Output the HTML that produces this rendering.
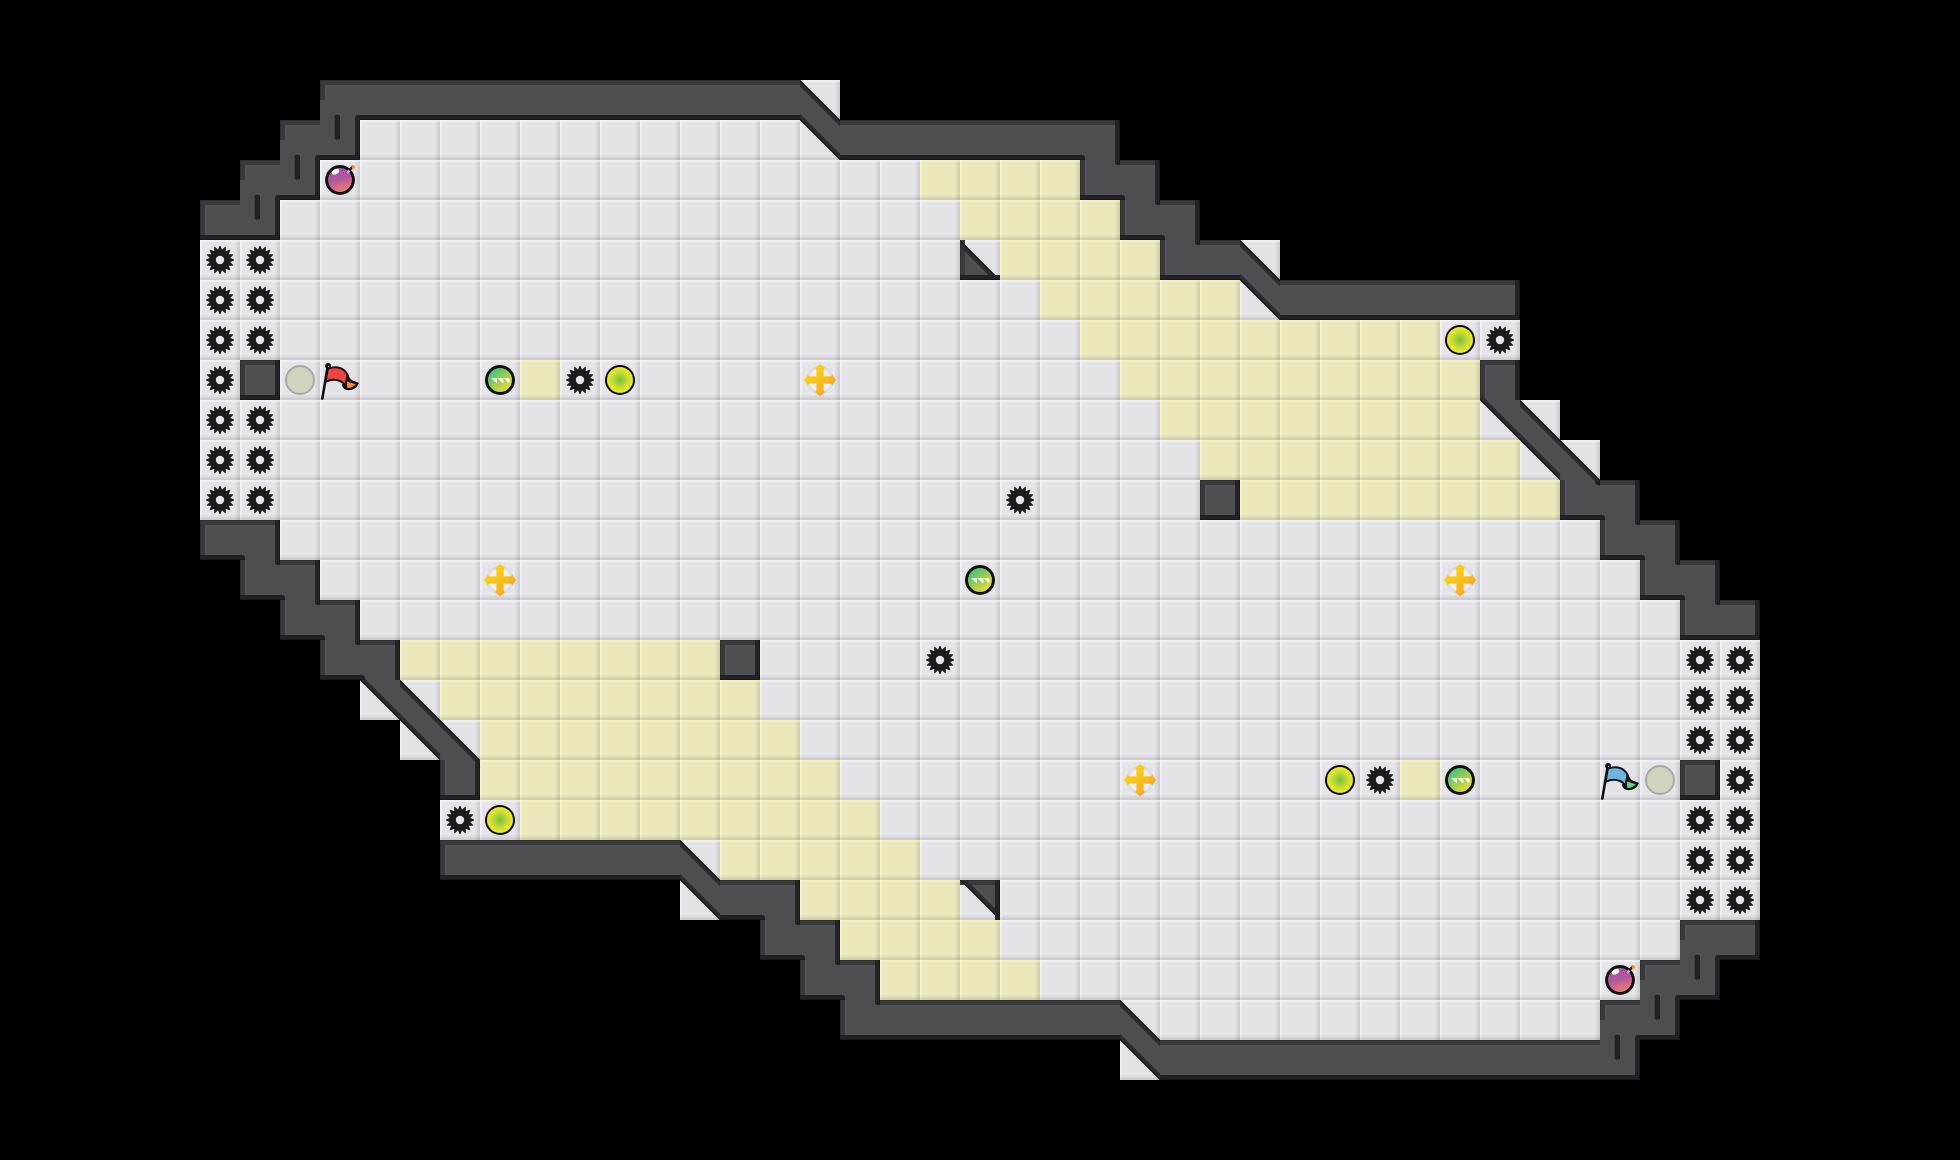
<!DOCTYPE html>
<html><head><meta charset="utf-8"><title>Map</title>
<style>html,body{margin:0;padding:0;background:#000;overflow:hidden;font-family:"Liberation Sans",sans-serif}svg{display:block}</style>
</head><body>
<svg width="1960" height="1160" viewBox="0 0 1960 1160">
<defs>
<linearGradient id="fh" x1="0" y1="0" x2="1" y2="0"><stop offset="0.0000" stop-color="#fff" stop-opacity="0.52"/><stop offset="0.0425" stop-color="#fff" stop-opacity="0.46"/><stop offset="0.0625" stop-color="#fff" stop-opacity="0.07"/><stop offset="0.1150" stop-color="#fff" stop-opacity="0.04"/><stop offset="0.1325" stop-color="#fff" stop-opacity="0.13"/><stop offset="0.1750" stop-color="#fff" stop-opacity="0.13"/><stop offset="0.1950" stop-color="#fff" stop-opacity="0.0"/><stop offset="0.7900" stop-color="#fff" stop-opacity="0.0"/><stop offset="0.8100" stop-color="#fff" stop-opacity="0.11"/><stop offset="0.8650" stop-color="#fff" stop-opacity="0.11"/><stop offset="0.8800" stop-color="#000" stop-opacity="0.02"/><stop offset="0.9250" stop-color="#000" stop-opacity="0.035"/><stop offset="0.9475" stop-color="#000" stop-opacity="0.09"/><stop offset="1.0000" stop-color="#000" stop-opacity="0.105"/></linearGradient>
<linearGradient id="fv" x1="0" y1="0" x2="0" y2="1"><stop offset="0.0000" stop-color="#fff" stop-opacity="0.52"/><stop offset="0.0425" stop-color="#fff" stop-opacity="0.46"/><stop offset="0.0625" stop-color="#fff" stop-opacity="0.07"/><stop offset="0.1150" stop-color="#fff" stop-opacity="0.04"/><stop offset="0.1325" stop-color="#fff" stop-opacity="0.13"/><stop offset="0.1750" stop-color="#fff" stop-opacity="0.13"/><stop offset="0.1950" stop-color="#fff" stop-opacity="0.0"/><stop offset="0.7900" stop-color="#fff" stop-opacity="0.0"/><stop offset="0.8100" stop-color="#fff" stop-opacity="0.11"/><stop offset="0.8650" stop-color="#fff" stop-opacity="0.11"/><stop offset="0.8800" stop-color="#000" stop-opacity="0.02"/><stop offset="0.9250" stop-color="#000" stop-opacity="0.035"/><stop offset="0.9475" stop-color="#000" stop-opacity="0.09"/><stop offset="1.0000" stop-color="#000" stop-opacity="0.105"/></linearGradient>
<linearGradient id="yh" x1="0" y1="0" x2="1" y2="0"><stop offset="0.0000" stop-color="#fffdd3" stop-opacity="0.52"/><stop offset="0.0425" stop-color="#fffdd3" stop-opacity="0.46"/><stop offset="0.0625" stop-color="#fffdd3" stop-opacity="0.07"/><stop offset="0.1150" stop-color="#fffdd3" stop-opacity="0.04"/><stop offset="0.1325" stop-color="#fffdd3" stop-opacity="0.13"/><stop offset="0.1750" stop-color="#fffdd3" stop-opacity="0.13"/><stop offset="0.1950" stop-color="#fffdd3" stop-opacity="0.0"/><stop offset="0.7900" stop-color="#fffdd3" stop-opacity="0.0"/><stop offset="0.8100" stop-color="#fffdd3" stop-opacity="0.11"/><stop offset="0.8650" stop-color="#fffdd3" stop-opacity="0.11"/><stop offset="0.8800" stop-color="#000" stop-opacity="0.02"/><stop offset="0.9250" stop-color="#000" stop-opacity="0.035"/><stop offset="0.9475" stop-color="#000" stop-opacity="0.09"/><stop offset="1.0000" stop-color="#000" stop-opacity="0.105"/></linearGradient>
<linearGradient id="yv" x1="0" y1="0" x2="0" y2="1"><stop offset="0.0000" stop-color="#fffdd3" stop-opacity="0.52"/><stop offset="0.0425" stop-color="#fffdd3" stop-opacity="0.46"/><stop offset="0.0625" stop-color="#fffdd3" stop-opacity="0.07"/><stop offset="0.1150" stop-color="#fffdd3" stop-opacity="0.04"/><stop offset="0.1325" stop-color="#fffdd3" stop-opacity="0.13"/><stop offset="0.1750" stop-color="#fffdd3" stop-opacity="0.13"/><stop offset="0.1950" stop-color="#fffdd3" stop-opacity="0.0"/><stop offset="0.7900" stop-color="#fffdd3" stop-opacity="0.0"/><stop offset="0.8100" stop-color="#fffdd3" stop-opacity="0.11"/><stop offset="0.8650" stop-color="#fffdd3" stop-opacity="0.11"/><stop offset="0.8800" stop-color="#000" stop-opacity="0.02"/><stop offset="0.9250" stop-color="#000" stop-opacity="0.035"/><stop offset="0.9475" stop-color="#000" stop-opacity="0.09"/><stop offset="1.0000" stop-color="#000" stop-opacity="0.105"/></linearGradient>
<pattern id="f" width="40" height="40" patternUnits="userSpaceOnUse">
<rect width="40" height="40" fill="#e2e2e7"/><rect width="40" height="40" fill="url(#fh)"/><rect width="40" height="40" fill="url(#fv)"/>
</pattern>
<pattern id="y" width="40" height="40" patternUnits="userSpaceOnUse">
<rect width="40" height="40" fill="#e8e6b9"/><rect width="40" height="40" fill="url(#yh)"/><rect width="40" height="40" fill="url(#yv)"/>
</pattern>
<radialGradient id="pg"><stop offset="0" stop-color="#78c24a"/><stop offset="0.55" stop-color="#c6da34"/><stop offset="1" stop-color="#f2f21c"/></radialGradient>
<linearGradient id="gg" x1="0.15" y1="0.1" x2="0.85" y2="0.9"><stop offset="0" stop-color="#35c088"/><stop offset="0.5" stop-color="#9ccc50"/><stop offset="1" stop-color="#f2dc3a"/></linearGradient>
<linearGradient id="bg" x1="0.3" y1="0" x2="0.6" y2="1"><stop offset="0" stop-color="#9a4fb6"/><stop offset="0.5" stop-color="#b45a98"/><stop offset="1" stop-color="#f4846c"/></linearGradient>
<linearGradient id="og" x1="0" y1="0" x2="1" y2="1"><stop offset="0" stop-color="#f4dc14"/><stop offset="0.5" stop-color="#f7c21a"/><stop offset="1" stop-color="#ff9220"/></linearGradient>
<radialGradient id="halo"><stop offset="0.7" stop-color="#f0f0f4" stop-opacity="1"/><stop offset="0.86" stop-color="#d8d8de" stop-opacity="0.9"/><stop offset="1" stop-color="#d8d8de" stop-opacity="0"/></radialGradient>
<symbol id="spike" width="40" height="40" viewBox="0 0 40 40" overflow="visible"><path d="M19.51 6.01L20.49 6.01L22.03 9.80L24.90 6.89L25.81 7.26L25.78 11.35L29.55 9.76L30.24 10.45L28.65 14.22L32.74 14.19L33.11 15.10L30.20 17.97L33.99 19.51L33.99 20.49L30.20 22.03L33.11 24.90L32.74 25.81L28.65 25.78L30.24 29.55L29.55 30.24L25.78 28.65L25.81 32.74L24.90 33.11L22.03 30.20L20.49 33.99L19.51 33.99L17.97 30.20L15.10 33.11L14.19 32.74L14.22 28.65L10.45 30.24L9.76 29.55L11.35 25.78L7.26 25.81L6.89 24.90L9.80 22.03L6.01 20.49L6.01 19.51L9.80 17.97L6.89 15.10L7.26 14.19L11.35 14.22L9.76 10.45L10.45 9.76L14.22 11.35L14.19 7.26L15.10 6.89L17.97 9.80Z" fill="#1b1b1b"/><circle cx="20" cy="20" r="4.2" fill="#e4e4e9"/></symbol>
<symbol id="portal" width="40" height="40" viewBox="0 0 40 40"><circle cx="20" cy="20" r="14" fill="url(#pg)" stroke="#0c0818" stroke-width="2"/><g fill="#f0f41a" opacity="0.75"><circle cx="13.4" cy="13.4" r="1.5"/><circle cx="26.6" cy="13.4" r="1.5"/><circle cx="13.4" cy="26.6" r="1.5"/><circle cx="26.6" cy="26.6" r="1.5"/></g></symbol>
<symbol id="portaloff" width="40" height="40" viewBox="0 0 40 40"><circle cx="20" cy="20" r="14" fill="#cdd5bd" stroke="#a9aaa4" stroke-width="2"/></symbol>
<symbol id="pup" width="40" height="40" viewBox="0 0 40 40"><circle cx="20" cy="20" r="13.5" fill="url(#gg)" stroke="#111" stroke-width="3"/>
<path d="M11.2 18.2h5.8v5.4zM17.6 18.2h5.8v5.4zM24 18.2h5.4v5.4z" fill="#fff"/></symbol>
<symbol id="bomb" width="40" height="40" viewBox="0 0 40 40"><path d="M29 10.5L32.5 7" stroke="#111" stroke-width="2.4" fill="none"/>
<circle cx="20" cy="20" r="13.4" fill="url(#bg)" stroke="#111" stroke-width="3"/>
<ellipse cx="15.6" cy="11.8" rx="4" ry="2.5" transform="rotate(-25 15.6 11.8)" fill="#fff"/>
<circle cx="28.5" cy="11.6" r="1.4" fill="#f7b8d0"/>
<path d="M31.6 4.6l3.4 1.2 -0.6 3.4 -2.2 0.4z" fill="#ff8a10"/></symbol>
<symbol id="boost" width="40" height="40" viewBox="0 0 40 40"><circle cx="20" cy="20" r="14.500" fill="url(#halo)"/>
<path d="M16.80 16.80L16.80 9.60L15.40 7.80L20.00 4.20L24.60 7.80L23.20 9.60L23.20 16.80L30.40 16.80L32.20 15.40L35.80 20.00L32.20 24.60L30.40 23.20L23.20 23.20L23.20 30.40L24.60 32.20L20.00 35.80L15.40 32.20L16.80 30.40L16.80 23.20L9.60 23.20L7.80 24.60L4.20 20.00L7.80 15.40L9.60 16.80Z" fill="url(#og)" stroke="url(#og)" stroke-width="0.800" stroke-linejoin="round"/>
<circle cx="20" cy="20" r="2.200" fill="#e2d414" stroke="#f7b040" stroke-width="0.800"/></symbol>
<symbol id="rflag" width="40" height="40" viewBox="0 0 40 40"><path d="M7.700 6.500L2.300 38.600" stroke="#111" stroke-width="2.600" stroke-linecap="round" fill="none"/>
<path d="M7.800 8.800C12 7 17 6.800 21 8.400C24.500 10 26.500 12.500 27.600 15.200L25.600 25.600C23 22 18.500 19.700 13.500 19.700C10.500 19.700 8 20.600 5.700 21.900Z" fill="#f0453f" stroke="#111" stroke-width="1.900" stroke-linejoin="round"/>
<path d="M27.600 15.200C28.600 18.200 30.500 20.800 33.500 22L37.800 23.300C36 27 32.500 29.200 28.500 29.200C25.500 29.200 23.500 27.500 22.900 25L25.600 25.600Z" fill="#111" stroke="#111" stroke-width="1.900" stroke-linejoin="round"/>
<path d="M26.800 21.600L35.800 24.300C33.800 26.900 30.900 28.200 27.300 28Z" fill="#f58a30"/>
<circle cx="8.100" cy="5.900" r="2.900" fill="#111"/><circle cx="8.500" cy="6.400" r="0.600" fill="#eee"/></symbol>
<symbol id="bflag" width="40" height="40" viewBox="0 0 40 40"><path d="M7.700 6.500L2.300 38.600" stroke="#111" stroke-width="2.600" stroke-linecap="round" fill="none"/>
<path d="M7.800 8.800C12 7 17 6.800 21 8.400C24.500 10 26.500 12.500 27.600 15.200L25.600 25.600C23 22 18.500 19.700 13.500 19.700C10.500 19.700 8 20.600 5.700 21.900Z" fill="#6cb4e2" stroke="#111" stroke-width="1.900" stroke-linejoin="round"/>
<path d="M27.600 15.200C28.600 18.200 30.500 20.800 33.500 22L37.800 23.300C36 27 32.500 29.200 28.500 29.200C25.500 29.200 23.500 27.500 22.900 25L25.600 25.600Z" fill="#111" stroke="#111" stroke-width="1.900" stroke-linejoin="round"/>
<path d="M26.800 21.600L35.800 24.300C33.800 26.900 30.900 28.200 27.300 28Z" fill="#62d488"/>
<circle cx="8.100" cy="5.900" r="2.900" fill="#111"/><circle cx="8.500" cy="6.400" r="0.600" fill="#eee"/></symbol>
</defs>
<rect width="1960" height="1160" fill="#000"/>
<rect x="800" y="80" width="40" height="40" fill="url(#f)"/>
<rect x="360" y="120" width="480" height="40" fill="url(#f)"/>
<rect x="320" y="160" width="600" height="40" fill="url(#f)"/>
<rect x="920" y="160" width="160" height="40" fill="url(#y)"/>
<rect x="280" y="200" width="680" height="40" fill="url(#f)"/>
<rect x="960" y="200" width="160" height="40" fill="url(#y)"/>
<rect x="200" y="240" width="800" height="40" fill="url(#f)"/>
<rect x="1000" y="240" width="160" height="40" fill="url(#y)"/>
<rect x="1240" y="240" width="40" height="40" fill="url(#f)"/>
<rect x="200" y="280" width="840" height="40" fill="url(#f)"/>
<rect x="1040" y="280" width="200" height="40" fill="url(#y)"/>
<rect x="1240" y="280" width="40" height="40" fill="url(#f)"/>
<rect x="200" y="320" width="880" height="40" fill="url(#f)"/>
<rect x="1080" y="320" width="360" height="40" fill="url(#y)"/>
<rect x="1440" y="320" width="80" height="40" fill="url(#f)"/>
<rect x="200" y="360" width="40" height="40" fill="url(#f)"/>
<rect x="280" y="360" width="240" height="40" fill="url(#f)"/>
<rect x="520" y="360" width="40" height="40" fill="url(#y)"/>
<rect x="560" y="360" width="560" height="40" fill="url(#f)"/>
<rect x="1120" y="360" width="360" height="40" fill="url(#y)"/>
<rect x="200" y="400" width="960" height="40" fill="url(#f)"/>
<rect x="1160" y="400" width="320" height="40" fill="url(#y)"/>
<rect x="1480" y="400" width="80" height="40" fill="url(#f)"/>
<rect x="200" y="440" width="1000" height="40" fill="url(#f)"/>
<rect x="1200" y="440" width="320" height="40" fill="url(#y)"/>
<rect x="1520" y="440" width="80" height="40" fill="url(#f)"/>
<rect x="200" y="480" width="1000" height="40" fill="url(#f)"/>
<rect x="1240" y="480" width="320" height="40" fill="url(#y)"/>
<rect x="280" y="520" width="1320" height="40" fill="url(#f)"/>
<rect x="320" y="560" width="1320" height="40" fill="url(#f)"/>
<rect x="360" y="600" width="1320" height="40" fill="url(#f)"/>
<rect x="400" y="640" width="320" height="40" fill="url(#y)"/>
<rect x="760" y="640" width="1000" height="40" fill="url(#f)"/>
<rect x="360" y="680" width="80" height="40" fill="url(#f)"/>
<rect x="440" y="680" width="320" height="40" fill="url(#y)"/>
<rect x="760" y="680" width="1000" height="40" fill="url(#f)"/>
<rect x="400" y="720" width="80" height="40" fill="url(#f)"/>
<rect x="480" y="720" width="320" height="40" fill="url(#y)"/>
<rect x="800" y="720" width="960" height="40" fill="url(#f)"/>
<rect x="480" y="760" width="360" height="40" fill="url(#y)"/>
<rect x="840" y="760" width="560" height="40" fill="url(#f)"/>
<rect x="1400" y="760" width="40" height="40" fill="url(#y)"/>
<rect x="1440" y="760" width="240" height="40" fill="url(#f)"/>
<rect x="1720" y="760" width="40" height="40" fill="url(#f)"/>
<rect x="440" y="800" width="80" height="40" fill="url(#f)"/>
<rect x="520" y="800" width="360" height="40" fill="url(#y)"/>
<rect x="880" y="800" width="880" height="40" fill="url(#f)"/>
<rect x="680" y="840" width="40" height="40" fill="url(#f)"/>
<rect x="720" y="840" width="200" height="40" fill="url(#y)"/>
<rect x="920" y="840" width="840" height="40" fill="url(#f)"/>
<rect x="680" y="880" width="40" height="40" fill="url(#f)"/>
<rect x="800" y="880" width="160" height="40" fill="url(#y)"/>
<rect x="960" y="880" width="800" height="40" fill="url(#f)"/>
<rect x="840" y="920" width="160" height="40" fill="url(#y)"/>
<rect x="1000" y="920" width="680" height="40" fill="url(#f)"/>
<rect x="880" y="960" width="160" height="40" fill="url(#y)"/>
<rect x="1040" y="960" width="600" height="40" fill="url(#f)"/>
<rect x="1120" y="1000" width="480" height="40" fill="url(#f)"/>
<rect x="1120" y="1040" width="40" height="40" fill="url(#f)"/>
<g fill="#4e4d52"><rect x="320" y="80" width="40" height="40"/><rect x="360" y="80" width="40" height="40"/><rect x="400" y="80" width="40" height="40"/><rect x="440" y="80" width="40" height="40"/><rect x="480" y="80" width="40" height="40"/><rect x="520" y="80" width="40" height="40"/><rect x="560" y="80" width="40" height="40"/><rect x="600" y="80" width="40" height="40"/><rect x="640" y="80" width="40" height="40"/><rect x="680" y="80" width="40" height="40"/><rect x="720" y="80" width="40" height="40"/><rect x="760" y="80" width="40" height="40"/><path d="M800 80L840 120L800 120Z"/><rect x="280" y="120" width="40" height="40"/><rect x="320" y="120" width="40" height="40"/><path d="M800 120L840 120L840 160Z"/><rect x="840" y="120" width="40" height="40"/><rect x="880" y="120" width="40" height="40"/><rect x="920" y="120" width="40" height="40"/><rect x="960" y="120" width="40" height="40"/><rect x="1000" y="120" width="40" height="40"/><rect x="1040" y="120" width="40" height="40"/><rect x="1080" y="120" width="40" height="40"/><rect x="240" y="160" width="40" height="40"/><rect x="280" y="160" width="40" height="40"/><rect x="1080" y="160" width="40" height="40"/><rect x="1120" y="160" width="40" height="40"/><rect x="200" y="200" width="40" height="40"/><rect x="240" y="200" width="40" height="40"/><rect x="1120" y="200" width="40" height="40"/><rect x="1160" y="200" width="40" height="40"/><path d="M960 240L1000 280L960 280Z"/><rect x="1160" y="240" width="40" height="40"/><rect x="1200" y="240" width="40" height="40"/><path d="M1240 240L1280 280L1240 280Z"/><path d="M1240 280L1280 280L1280 320Z"/><rect x="1280" y="280" width="40" height="40"/><rect x="1320" y="280" width="40" height="40"/><rect x="1360" y="280" width="40" height="40"/><rect x="1400" y="280" width="40" height="40"/><rect x="1440" y="280" width="40" height="40"/><rect x="1480" y="280" width="40" height="40"/><rect x="240" y="360" width="40" height="40"/><rect x="1480" y="360" width="40" height="40"/><path d="M1480 400L1520 400L1520 440Z"/><path d="M1520 400L1560 440L1520 440Z"/><path d="M1520 440L1560 440L1560 480Z"/><path d="M1560 440L1600 480L1560 480Z"/><rect x="1200" y="480" width="40" height="40"/><rect x="1560" y="480" width="40" height="40"/><rect x="1600" y="480" width="40" height="40"/><rect x="200" y="520" width="40" height="40"/><rect x="240" y="520" width="40" height="40"/><rect x="1600" y="520" width="40" height="40"/><rect x="1640" y="520" width="40" height="40"/><rect x="240" y="560" width="40" height="40"/><rect x="280" y="560" width="40" height="40"/><rect x="1640" y="560" width="40" height="40"/><rect x="1680" y="560" width="40" height="40"/><rect x="280" y="600" width="40" height="40"/><rect x="320" y="600" width="40" height="40"/><rect x="1680" y="600" width="40" height="40"/><rect x="1720" y="600" width="40" height="40"/><rect x="320" y="640" width="40" height="40"/><rect x="360" y="640" width="40" height="40"/><rect x="720" y="640" width="40" height="40"/><path d="M360 680L400 680L400 720Z"/><path d="M400 680L440 720L400 720Z"/><path d="M400 720L440 720L440 760Z"/><path d="M440 720L480 760L440 760Z"/><rect x="440" y="760" width="40" height="40"/><rect x="1680" y="760" width="40" height="40"/><rect x="440" y="840" width="40" height="40"/><rect x="480" y="840" width="40" height="40"/><rect x="520" y="840" width="40" height="40"/><rect x="560" y="840" width="40" height="40"/><rect x="600" y="840" width="40" height="40"/><rect x="640" y="840" width="40" height="40"/><path d="M680 840L720 880L680 880Z"/><path d="M680 880L720 880L720 920Z"/><rect x="720" y="880" width="40" height="40"/><rect x="760" y="880" width="40" height="40"/><path d="M960 880L1000 880L1000 920Z"/><rect x="760" y="920" width="40" height="40"/><rect x="800" y="920" width="40" height="40"/><rect x="1680" y="920" width="40" height="40"/><rect x="1720" y="920" width="40" height="40"/><rect x="800" y="960" width="40" height="40"/><rect x="840" y="960" width="40" height="40"/><rect x="1640" y="960" width="40" height="40"/><rect x="1680" y="960" width="40" height="40"/><rect x="840" y="1000" width="40" height="40"/><rect x="880" y="1000" width="40" height="40"/><rect x="920" y="1000" width="40" height="40"/><rect x="960" y="1000" width="40" height="40"/><rect x="1000" y="1000" width="40" height="40"/><rect x="1040" y="1000" width="40" height="40"/><rect x="1080" y="1000" width="40" height="40"/><path d="M1120 1000L1160 1040L1120 1040Z"/><rect x="1600" y="1000" width="40" height="40"/><rect x="1640" y="1000" width="40" height="40"/><path d="M1120 1040L1160 1040L1160 1080Z"/><rect x="1160" y="1040" width="40" height="40"/><rect x="1200" y="1040" width="40" height="40"/><rect x="1240" y="1040" width="40" height="40"/><rect x="1280" y="1040" width="40" height="40"/><rect x="1320" y="1040" width="40" height="40"/><rect x="1360" y="1040" width="40" height="40"/><rect x="1400" y="1040" width="40" height="40"/><rect x="1440" y="1040" width="40" height="40"/><rect x="1480" y="1040" width="40" height="40"/><rect x="1520" y="1040" width="40" height="40"/><rect x="1560" y="1040" width="40" height="40"/><rect x="1600" y="1040" width="40" height="40"/></g>
<g fill="#57565b" opacity="0.5"><rect x="325" y="80" width="1.5" height="20"/><rect x="320" y="85" width="40" height="1.5"/><rect x="360" y="85" width="40" height="1.5"/><rect x="360" y="113.5" width="40" height="1.5"/><rect x="400" y="85" width="40" height="1.5"/><rect x="400" y="113.5" width="40" height="1.5"/><rect x="440" y="85" width="40" height="1.5"/><rect x="440" y="113.5" width="40" height="1.5"/><rect x="480" y="85" width="40" height="1.5"/><rect x="480" y="113.5" width="40" height="1.5"/><rect x="520" y="85" width="40" height="1.5"/><rect x="520" y="113.5" width="40" height="1.5"/><rect x="560" y="85" width="40" height="1.5"/><rect x="560" y="113.5" width="40" height="1.5"/><rect x="600" y="85" width="40" height="1.5"/><rect x="600" y="113.5" width="40" height="1.5"/><rect x="640" y="85" width="40" height="1.5"/><rect x="640" y="113.5" width="40" height="1.5"/><rect x="680" y="85" width="40" height="1.5"/><rect x="680" y="113.5" width="40" height="1.5"/><rect x="720" y="85" width="40" height="1.5"/><rect x="720" y="113.5" width="40" height="1.5"/><rect x="760" y="85" width="40" height="1.5"/><rect x="760" y="113.5" width="40" height="1.5"/><path d="M800 86.51L840 126.51L840 128.63L800 88.63Z"/><rect x="285" y="120" width="1.5" height="20"/><rect x="280" y="125" width="40" height="1.5"/><rect x="353.5" y="120" width="1.5" height="40"/><rect x="320" y="153.5" width="40" height="1.5"/><path d="M800 113.49L840 153.49L840 151.37L800 111.37Z"/><rect x="840" y="125" width="40" height="1.5"/><rect x="840" y="153.5" width="40" height="1.5"/><rect x="880" y="125" width="40" height="1.5"/><rect x="880" y="153.5" width="40" height="1.5"/><rect x="920" y="125" width="40" height="1.5"/><rect x="920" y="153.5" width="40" height="1.5"/><rect x="960" y="125" width="40" height="1.5"/><rect x="960" y="153.5" width="40" height="1.5"/><rect x="1000" y="125" width="40" height="1.5"/><rect x="1000" y="153.5" width="40" height="1.5"/><rect x="1040" y="125" width="40" height="1.5"/><rect x="1040" y="153.5" width="40" height="1.5"/><rect x="1080" y="125" width="40" height="1.5"/><rect x="1113.5" y="120" width="1.5" height="40"/><rect x="245" y="160" width="1.5" height="20"/><rect x="240" y="165" width="40" height="1.5"/><rect x="313.5" y="160" width="1.5" height="40"/><rect x="280" y="193.5" width="40" height="1.5"/><rect x="1085" y="160" width="1.5" height="40"/><rect x="1080" y="193.5" width="40" height="1.5"/><rect x="1120" y="165" width="40" height="1.5"/><rect x="1153.5" y="160" width="1.5" height="40"/><rect x="205" y="200" width="1.5" height="40"/><rect x="200" y="205" width="40" height="1.5"/><rect x="200" y="233.5" width="40" height="1.5"/><rect x="273.5" y="200" width="1.5" height="40"/><rect x="240" y="233.5" width="40" height="1.5"/><rect x="1125" y="200" width="1.5" height="40"/><rect x="1120" y="233.5" width="40" height="1.5"/><rect x="1160" y="205" width="40" height="1.5"/><rect x="1193.5" y="200" width="1.5" height="40"/><rect x="1165" y="240" width="1.5" height="40"/><rect x="1160" y="273.5" width="40" height="1.5"/><rect x="1200" y="245" width="40" height="1.5"/><rect x="1200" y="273.5" width="40" height="1.5"/><path d="M1240 246.51L1280 286.51L1280 288.63L1240 248.63Z"/><path d="M1240 273.49L1280 313.49L1280 311.37L1240 271.37Z"/><rect x="1280" y="285" width="40" height="1.5"/><rect x="1280" y="313.5" width="40" height="1.5"/><rect x="1320" y="285" width="40" height="1.5"/><rect x="1320" y="313.5" width="40" height="1.5"/><rect x="1360" y="285" width="40" height="1.5"/><rect x="1360" y="313.5" width="40" height="1.5"/><rect x="1400" y="285" width="40" height="1.5"/><rect x="1400" y="313.5" width="40" height="1.5"/><rect x="1440" y="285" width="40" height="1.5"/><rect x="1440" y="313.5" width="40" height="1.5"/><rect x="1480" y="285" width="40" height="1.5"/><rect x="1513.5" y="280" width="1.5" height="40"/><rect x="1480" y="313.5" width="40" height="1.5"/><rect x="245" y="360" width="1.5" height="40"/><rect x="240" y="365" width="40" height="1.5"/><rect x="273.5" y="360" width="1.5" height="40"/><rect x="240" y="393.5" width="40" height="1.5"/><rect x="1485" y="360" width="1.5" height="40"/><rect x="1480" y="365" width="40" height="1.5"/><rect x="1513.5" y="360" width="1.5" height="40"/><path d="M1480 393.49L1520 433.49L1520 431.37L1480 391.37Z"/><path d="M1520 406.51L1560 446.51L1560 448.63L1520 408.63Z"/><path d="M1520 433.49L1560 473.49L1560 471.37L1520 431.37Z"/><path d="M1560 446.51L1600 486.51L1600 488.63L1560 448.63Z"/><rect x="1205" y="480" width="1.5" height="40"/><rect x="1200" y="485" width="40" height="1.5"/><rect x="1233.5" y="480" width="1.5" height="40"/><rect x="1200" y="513.5" width="40" height="1.5"/><rect x="1565" y="480" width="1.5" height="40"/><rect x="1560" y="513.5" width="40" height="1.5"/><rect x="1600" y="485" width="40" height="1.5"/><rect x="1633.5" y="480" width="1.5" height="40"/><rect x="205" y="520" width="1.5" height="40"/><rect x="200" y="525" width="40" height="1.5"/><rect x="200" y="553.5" width="40" height="1.5"/><rect x="240" y="525" width="40" height="1.5"/><rect x="273.5" y="520" width="1.5" height="40"/><rect x="1605" y="520" width="1.5" height="40"/><rect x="1600" y="553.5" width="40" height="1.5"/><rect x="1640" y="525" width="40" height="1.5"/><rect x="1673.5" y="520" width="1.5" height="40"/><rect x="245" y="560" width="1.5" height="40"/><rect x="240" y="593.5" width="40" height="1.5"/><rect x="280" y="565" width="40" height="1.5"/><rect x="313.5" y="560" width="1.5" height="40"/><rect x="1645" y="560" width="1.5" height="40"/><rect x="1640" y="593.5" width="40" height="1.5"/><rect x="1680" y="565" width="40" height="1.5"/><rect x="1713.5" y="560" width="1.5" height="40"/><rect x="285" y="600" width="1.5" height="40"/><rect x="280" y="633.5" width="40" height="1.5"/><rect x="320" y="605" width="40" height="1.5"/><rect x="353.5" y="600" width="1.5" height="40"/><rect x="1685" y="600" width="1.5" height="40"/><rect x="1680" y="633.5" width="40" height="1.5"/><rect x="1720" y="605" width="40" height="1.5"/><rect x="1753.5" y="600" width="1.5" height="40"/><rect x="1720" y="633.5" width="40" height="1.5"/><rect x="325" y="640" width="1.5" height="40"/><rect x="320" y="673.5" width="40" height="1.5"/><rect x="360" y="645" width="40" height="1.5"/><rect x="393.5" y="640" width="1.5" height="40"/><rect x="725" y="640" width="1.5" height="40"/><rect x="720" y="645" width="40" height="1.5"/><rect x="753.5" y="640" width="1.5" height="40"/><rect x="720" y="673.5" width="40" height="1.5"/><path d="M360 673.49L400 713.49L400 711.37L360 671.37Z"/><path d="M400 686.51L440 726.51L440 728.63L400 688.63Z"/><path d="M400 713.49L440 753.49L440 751.37L400 711.37Z"/><path d="M440 726.51L480 766.51L480 768.63L440 728.63Z"/><rect x="445" y="760" width="1.5" height="40"/><rect x="473.5" y="760" width="1.5" height="40"/><rect x="440" y="793.5" width="40" height="1.5"/><rect x="1685" y="760" width="1.5" height="40"/><rect x="1680" y="765" width="40" height="1.5"/><rect x="1713.5" y="760" width="1.5" height="40"/><rect x="1680" y="793.5" width="40" height="1.5"/><rect x="445" y="840" width="1.5" height="40"/><rect x="440" y="845" width="40" height="1.5"/><rect x="440" y="873.5" width="40" height="1.5"/><rect x="480" y="845" width="40" height="1.5"/><rect x="480" y="873.5" width="40" height="1.5"/><rect x="520" y="845" width="40" height="1.5"/><rect x="520" y="873.5" width="40" height="1.5"/><rect x="560" y="845" width="40" height="1.5"/><rect x="560" y="873.5" width="40" height="1.5"/><rect x="600" y="845" width="40" height="1.5"/><rect x="600" y="873.5" width="40" height="1.5"/><rect x="640" y="845" width="40" height="1.5"/><rect x="640" y="873.5" width="40" height="1.5"/><path d="M680 846.51L720 886.51L720 888.63L680 848.63Z"/><path d="M680 873.49L720 913.49L720 911.37L680 871.37Z"/><rect x="720" y="885" width="40" height="1.5"/><rect x="720" y="913.5" width="40" height="1.5"/><rect x="760" y="885" width="40" height="1.5"/><rect x="793.5" y="880" width="1.5" height="40"/><rect x="765" y="920" width="1.5" height="40"/><rect x="760" y="953.5" width="40" height="1.5"/><rect x="800" y="925" width="40" height="1.5"/><rect x="833.5" y="920" width="1.5" height="40"/><rect x="1685" y="920" width="1.5" height="20"/><rect x="1680" y="925" width="40" height="1.5"/><rect x="1720" y="925" width="40" height="1.5"/><rect x="1753.5" y="920" width="1.5" height="40"/><rect x="1720" y="953.5" width="40" height="1.5"/><rect x="805" y="960" width="1.5" height="40"/><rect x="800" y="993.5" width="40" height="1.5"/><rect x="840" y="965" width="40" height="1.5"/><rect x="873.5" y="960" width="1.5" height="40"/><rect x="1645" y="960" width="1.5" height="20"/><rect x="1640" y="965" width="40" height="1.5"/><rect x="1713.5" y="960" width="1.5" height="40"/><rect x="1680" y="993.5" width="40" height="1.5"/><rect x="845" y="1000" width="1.5" height="40"/><rect x="840" y="1033.5" width="40" height="1.5"/><rect x="880" y="1005" width="40" height="1.5"/><rect x="880" y="1033.5" width="40" height="1.5"/><rect x="920" y="1005" width="40" height="1.5"/><rect x="920" y="1033.5" width="40" height="1.5"/><rect x="960" y="1005" width="40" height="1.5"/><rect x="960" y="1033.5" width="40" height="1.5"/><rect x="1000" y="1005" width="40" height="1.5"/><rect x="1000" y="1033.5" width="40" height="1.5"/><rect x="1040" y="1005" width="40" height="1.5"/><rect x="1040" y="1033.5" width="40" height="1.5"/><rect x="1080" y="1005" width="40" height="1.5"/><rect x="1080" y="1033.5" width="40" height="1.5"/><path d="M1120 1006.51L1160 1046.51L1160 1048.63L1120 1008.63Z"/><rect x="1605" y="1000" width="1.5" height="20"/><rect x="1600" y="1005" width="40" height="1.5"/><rect x="1673.5" y="1000" width="1.5" height="40"/><rect x="1640" y="1033.5" width="40" height="1.5"/><path d="M1120 1033.49L1160 1073.49L1160 1071.37L1120 1031.37Z"/><rect x="1160" y="1045" width="40" height="1.5"/><rect x="1160" y="1073.5" width="40" height="1.5"/><rect x="1200" y="1045" width="40" height="1.5"/><rect x="1200" y="1073.5" width="40" height="1.5"/><rect x="1240" y="1045" width="40" height="1.5"/><rect x="1240" y="1073.5" width="40" height="1.5"/><rect x="1280" y="1045" width="40" height="1.5"/><rect x="1280" y="1073.5" width="40" height="1.5"/><rect x="1320" y="1045" width="40" height="1.5"/><rect x="1320" y="1073.5" width="40" height="1.5"/><rect x="1360" y="1045" width="40" height="1.5"/><rect x="1360" y="1073.5" width="40" height="1.5"/><rect x="1400" y="1045" width="40" height="1.5"/><rect x="1400" y="1073.5" width="40" height="1.5"/><rect x="1440" y="1045" width="40" height="1.5"/><rect x="1440" y="1073.5" width="40" height="1.5"/><rect x="1480" y="1045" width="40" height="1.5"/><rect x="1480" y="1073.5" width="40" height="1.5"/><rect x="1520" y="1045" width="40" height="1.5"/><rect x="1520" y="1073.5" width="40" height="1.5"/><rect x="1560" y="1045" width="40" height="1.5"/><rect x="1560" y="1073.5" width="40" height="1.5"/><rect x="1633.5" y="1040" width="1.5" height="40"/><rect x="1600" y="1073.5" width="40" height="1.5"/></g>
<g fill="#3a393e"><rect x="320" y="80" width="5" height="20"/><rect x="320" y="80" width="40" height="5"/><rect x="360" y="80" width="40" height="5"/><rect x="400" y="80" width="40" height="5"/><rect x="440" y="80" width="40" height="5"/><rect x="480" y="80" width="40" height="5"/><rect x="520" y="80" width="40" height="5"/><rect x="560" y="80" width="40" height="5"/><rect x="600" y="80" width="40" height="5"/><rect x="640" y="80" width="40" height="5"/><rect x="680" y="80" width="40" height="5"/><rect x="720" y="80" width="40" height="5"/><rect x="760" y="80" width="40" height="5"/><rect x="280" y="120" width="5" height="20"/><rect x="280" y="120" width="40" height="5"/><rect x="840" y="120" width="40" height="5"/><rect x="880" y="120" width="40" height="5"/><rect x="920" y="120" width="40" height="5"/><rect x="960" y="120" width="40" height="5"/><rect x="1000" y="120" width="40" height="5"/><rect x="1040" y="120" width="40" height="5"/><rect x="1080" y="120" width="40" height="5"/><rect x="240" y="160" width="5" height="20"/><rect x="240" y="160" width="40" height="5"/><rect x="1080" y="160" width="5" height="40"/><rect x="1120" y="160" width="40" height="5"/><rect x="200" y="200" width="5" height="40"/><rect x="200" y="200" width="40" height="5"/><rect x="1120" y="200" width="5" height="40"/><rect x="1160" y="200" width="40" height="5"/><rect x="960" y="240" width="5" height="40"/><rect x="1160" y="240" width="5" height="40"/><rect x="1200" y="240" width="40" height="5"/><rect x="1280" y="280" width="40" height="5"/><rect x="1320" y="280" width="40" height="5"/><rect x="1360" y="280" width="40" height="5"/><rect x="1400" y="280" width="40" height="5"/><rect x="1440" y="280" width="40" height="5"/><rect x="1480" y="280" width="40" height="5"/><rect x="240" y="360" width="5" height="40"/><rect x="240" y="360" width="40" height="5"/><rect x="1480" y="360" width="5" height="40"/><rect x="1480" y="360" width="40" height="5"/><rect x="1200" y="480" width="5" height="40"/><rect x="1200" y="480" width="40" height="5"/><rect x="1560" y="480" width="5" height="40"/><rect x="1600" y="480" width="40" height="5"/><rect x="200" y="520" width="5" height="40"/><rect x="200" y="520" width="40" height="5"/><rect x="240" y="520" width="40" height="5"/><rect x="1600" y="520" width="5" height="40"/><rect x="1640" y="520" width="40" height="5"/><rect x="240" y="560" width="5" height="40"/><rect x="280" y="560" width="40" height="5"/><rect x="1640" y="560" width="5" height="40"/><rect x="1680" y="560" width="40" height="5"/><rect x="280" y="600" width="5" height="40"/><rect x="320" y="600" width="40" height="5"/><rect x="1680" y="600" width="5" height="40"/><rect x="1720" y="600" width="40" height="5"/><rect x="320" y="640" width="5" height="40"/><rect x="360" y="640" width="40" height="5"/><rect x="720" y="640" width="5" height="40"/><rect x="720" y="640" width="40" height="5"/><rect x="440" y="760" width="5" height="40"/><rect x="1680" y="760" width="5" height="40"/><rect x="1680" y="760" width="40" height="5"/><rect x="440" y="840" width="5" height="40"/><rect x="440" y="840" width="40" height="5"/><rect x="480" y="840" width="40" height="5"/><rect x="520" y="840" width="40" height="5"/><rect x="560" y="840" width="40" height="5"/><rect x="600" y="840" width="40" height="5"/><rect x="640" y="840" width="40" height="5"/><rect x="720" y="880" width="40" height="5"/><rect x="760" y="880" width="40" height="5"/><rect x="960" y="880" width="40" height="5"/><rect x="760" y="920" width="5" height="40"/><rect x="800" y="920" width="40" height="5"/><rect x="1680" y="920" width="5" height="20"/><rect x="1680" y="920" width="40" height="5"/><rect x="1720" y="920" width="40" height="5"/><rect x="800" y="960" width="5" height="40"/><rect x="840" y="960" width="40" height="5"/><rect x="1640" y="960" width="5" height="20"/><rect x="1640" y="960" width="40" height="5"/><rect x="840" y="1000" width="5" height="40"/><rect x="880" y="1000" width="40" height="5"/><rect x="920" y="1000" width="40" height="5"/><rect x="960" y="1000" width="40" height="5"/><rect x="1000" y="1000" width="40" height="5"/><rect x="1040" y="1000" width="40" height="5"/><rect x="1080" y="1000" width="40" height="5"/><rect x="1600" y="1000" width="5" height="20"/><rect x="1600" y="1000" width="40" height="5"/><rect x="1160" y="1040" width="40" height="5"/><rect x="1200" y="1040" width="40" height="5"/><rect x="1240" y="1040" width="40" height="5"/><rect x="1280" y="1040" width="40" height="5"/><rect x="1320" y="1040" width="40" height="5"/><rect x="1360" y="1040" width="40" height="5"/><rect x="1400" y="1040" width="40" height="5"/><rect x="1440" y="1040" width="40" height="5"/><rect x="1480" y="1040" width="40" height="5"/><rect x="1520" y="1040" width="40" height="5"/><rect x="1560" y="1040" width="40" height="5"/></g>
<g fill="#302f34"><rect x="320" y="80" width="1" height="20"/><rect x="320" y="80" width="40" height="1"/><rect x="360" y="80" width="40" height="1"/><rect x="400" y="80" width="40" height="1"/><rect x="440" y="80" width="40" height="1"/><rect x="480" y="80" width="40" height="1"/><rect x="520" y="80" width="40" height="1"/><rect x="560" y="80" width="40" height="1"/><rect x="600" y="80" width="40" height="1"/><rect x="640" y="80" width="40" height="1"/><rect x="680" y="80" width="40" height="1"/><rect x="720" y="80" width="40" height="1"/><rect x="760" y="80" width="40" height="1"/><rect x="280" y="120" width="1" height="20"/><rect x="280" y="120" width="40" height="1"/><rect x="840" y="120" width="40" height="1"/><rect x="880" y="120" width="40" height="1"/><rect x="920" y="120" width="40" height="1"/><rect x="960" y="120" width="40" height="1"/><rect x="1000" y="120" width="40" height="1"/><rect x="1040" y="120" width="40" height="1"/><rect x="1080" y="120" width="40" height="1"/><rect x="240" y="160" width="1" height="20"/><rect x="240" y="160" width="40" height="1"/><rect x="1080" y="160" width="1" height="40"/><rect x="1120" y="160" width="40" height="1"/><rect x="200" y="200" width="1" height="40"/><rect x="200" y="200" width="40" height="1"/><rect x="1120" y="200" width="1" height="40"/><rect x="1160" y="200" width="40" height="1"/><rect x="960" y="240" width="1" height="40"/><rect x="1160" y="240" width="1" height="40"/><rect x="1200" y="240" width="40" height="1"/><rect x="1280" y="280" width="40" height="1"/><rect x="1320" y="280" width="40" height="1"/><rect x="1360" y="280" width="40" height="1"/><rect x="1400" y="280" width="40" height="1"/><rect x="1440" y="280" width="40" height="1"/><rect x="1480" y="280" width="40" height="1"/><rect x="240" y="360" width="1" height="40"/><rect x="240" y="360" width="40" height="1"/><rect x="1480" y="360" width="1" height="40"/><rect x="1480" y="360" width="40" height="1"/><rect x="1200" y="480" width="1" height="40"/><rect x="1200" y="480" width="40" height="1"/><rect x="1560" y="480" width="1" height="40"/><rect x="1600" y="480" width="40" height="1"/><rect x="200" y="520" width="1" height="40"/><rect x="200" y="520" width="40" height="1"/><rect x="240" y="520" width="40" height="1"/><rect x="1600" y="520" width="1" height="40"/><rect x="1640" y="520" width="40" height="1"/><rect x="240" y="560" width="1" height="40"/><rect x="280" y="560" width="40" height="1"/><rect x="1640" y="560" width="1" height="40"/><rect x="1680" y="560" width="40" height="1"/><rect x="280" y="600" width="1" height="40"/><rect x="320" y="600" width="40" height="1"/><rect x="1680" y="600" width="1" height="40"/><rect x="1720" y="600" width="40" height="1"/><rect x="320" y="640" width="1" height="40"/><rect x="360" y="640" width="40" height="1"/><rect x="720" y="640" width="1" height="40"/><rect x="720" y="640" width="40" height="1"/><rect x="440" y="760" width="1" height="40"/><rect x="1680" y="760" width="1" height="40"/><rect x="1680" y="760" width="40" height="1"/><rect x="440" y="840" width="1" height="40"/><rect x="440" y="840" width="40" height="1"/><rect x="480" y="840" width="40" height="1"/><rect x="520" y="840" width="40" height="1"/><rect x="560" y="840" width="40" height="1"/><rect x="600" y="840" width="40" height="1"/><rect x="640" y="840" width="40" height="1"/><rect x="720" y="880" width="40" height="1"/><rect x="760" y="880" width="40" height="1"/><rect x="960" y="880" width="40" height="1"/><rect x="760" y="920" width="1" height="40"/><rect x="800" y="920" width="40" height="1"/><rect x="1680" y="920" width="1" height="20"/><rect x="1680" y="920" width="40" height="1"/><rect x="1720" y="920" width="40" height="1"/><rect x="800" y="960" width="1" height="40"/><rect x="840" y="960" width="40" height="1"/><rect x="1640" y="960" width="1" height="20"/><rect x="1640" y="960" width="40" height="1"/><rect x="840" y="1000" width="1" height="40"/><rect x="880" y="1000" width="40" height="1"/><rect x="920" y="1000" width="40" height="1"/><rect x="960" y="1000" width="40" height="1"/><rect x="1000" y="1000" width="40" height="1"/><rect x="1040" y="1000" width="40" height="1"/><rect x="1080" y="1000" width="40" height="1"/><rect x="1600" y="1000" width="1" height="20"/><rect x="1600" y="1000" width="40" height="1"/><rect x="1160" y="1040" width="40" height="1"/><rect x="1200" y="1040" width="40" height="1"/><rect x="1240" y="1040" width="40" height="1"/><rect x="1280" y="1040" width="40" height="1"/><rect x="1320" y="1040" width="40" height="1"/><rect x="1360" y="1040" width="40" height="1"/><rect x="1400" y="1040" width="40" height="1"/><rect x="1440" y="1040" width="40" height="1"/><rect x="1480" y="1040" width="40" height="1"/><rect x="1520" y="1040" width="40" height="1"/><rect x="1560" y="1040" width="40" height="1"/></g>
<g fill="#2c2b30"><path d="M800 80L840 120L840 126.51L800 86.51Z"/><path d="M800 120L840 160L840 153.49L800 113.49Z"/><path d="M960 240L1000 280L993.49 280L960 246.51Z"/><path d="M1240 240L1280 280L1280 286.51L1240 246.51Z"/><path d="M1240 280L1280 320L1280 313.49L1240 273.49Z"/><path d="M1480 400L1520 440L1520 433.49L1480 393.49Z"/><path d="M1520 400L1560 440L1560 446.51L1520 406.51Z"/><path d="M1520 440L1560 480L1560 473.49L1520 433.49Z"/><path d="M1560 440L1600 480L1600 486.51L1560 446.51Z"/><path d="M360 680L400 720L400 713.49L360 673.49Z"/><path d="M400 680L440 720L440 726.51L400 686.51Z"/><path d="M400 720L440 760L440 753.49L400 713.49Z"/><path d="M440 720L480 760L480 766.51L440 726.51Z"/><path d="M680 840L720 880L720 886.51L680 846.51Z"/><path d="M680 880L720 920L720 913.49L680 873.49Z"/><path d="M960 880L1000 920L1000 913.49L966.51 880Z"/><path d="M1120 1000L1160 1040L1160 1046.51L1120 1006.51Z"/><path d="M1120 1040L1160 1080L1160 1073.49L1120 1033.49Z"/></g>
<g fill="#18171c"><path d="M800 80L840 120L840 121.41L800 81.41Z"/><path d="M800 120L840 160L840 158.59L800 118.59Z"/><path d="M960 240L1000 280L998.59 280L960 241.41Z"/><path d="M1240 240L1280 280L1280 281.41L1240 241.41Z"/><path d="M1240 280L1280 320L1280 318.59L1240 278.59Z"/><path d="M1480 400L1520 440L1520 438.59L1480 398.59Z"/><path d="M1520 400L1560 440L1560 441.41L1520 401.41Z"/><path d="M1520 440L1560 480L1560 478.59L1520 438.59Z"/><path d="M1560 440L1600 480L1600 481.41L1560 441.41Z"/><path d="M360 680L400 720L400 718.59L360 678.59Z"/><path d="M400 680L440 720L440 721.41L400 681.41Z"/><path d="M400 720L440 760L440 758.59L400 718.59Z"/><path d="M440 720L480 760L480 761.41L440 721.41Z"/><path d="M680 840L720 880L720 881.41L680 841.41Z"/><path d="M680 880L720 920L720 918.59L680 878.59Z"/><path d="M960 880L1000 920L1000 918.59L961.41 880Z"/><path d="M1120 1000L1160 1040L1160 1041.41L1120 1001.41Z"/><path d="M1120 1040L1160 1080L1160 1078.59L1120 1038.59Z"/></g>
<g fill="#232227"><path d="M358.2 115H360V120H355V118.2Q355 115 358.2 115Z"/><rect x="360" y="115" width="40" height="5"/><rect x="400" y="115" width="40" height="5"/><rect x="440" y="115" width="40" height="5"/><rect x="480" y="115" width="40" height="5"/><rect x="520" y="115" width="40" height="5"/><rect x="560" y="115" width="40" height="5"/><rect x="600" y="115" width="40" height="5"/><rect x="640" y="115" width="40" height="5"/><rect x="680" y="115" width="40" height="5"/><rect x="720" y="115" width="40" height="5"/><rect x="760" y="115" width="40" height="5"/><path d="M318.2 155H320V160H315V158.2Q315 155 318.2 155Z"/><rect x="355" y="120" width="5" height="40"/><rect x="320" y="155" width="40" height="5"/><rect x="840" y="155" width="40" height="5"/><rect x="880" y="155" width="40" height="5"/><rect x="920" y="155" width="40" height="5"/><rect x="960" y="155" width="40" height="5"/><rect x="1000" y="155" width="40" height="5"/><rect x="1040" y="155" width="40" height="5"/><rect x="1115" y="120" width="5" height="40"/><path d="M1080 155H1081.8Q1085 155 1085 158.2V160H1080Z"/><path d="M278.2 195H280V200H275V198.2Q275 195 278.2 195Z"/><rect x="315" y="160" width="5" height="40"/><rect x="280" y="195" width="40" height="5"/><rect x="1080" y="195" width="40" height="5"/><path d="M1115 160H1120V165H1118.2Q1115 165 1115 161.8Z"/><rect x="1155" y="160" width="5" height="40"/><path d="M1120 195H1121.8Q1125 195 1125 198.2V200H1120Z"/><rect x="200" y="235" width="40" height="5"/><rect x="275" y="200" width="5" height="40"/><rect x="240" y="235" width="40" height="5"/><rect x="1120" y="235" width="40" height="5"/><path d="M1155 200H1160V205H1158.2Q1155 205 1155 201.8Z"/><rect x="1195" y="200" width="5" height="40"/><path d="M1160 235H1161.8Q1165 235 1165 238.2V240H1160Z"/><rect x="960" y="275" width="40" height="5"/><rect x="1160" y="275" width="40" height="5"/><path d="M1195 240H1200V245H1198.2Q1195 245 1195 241.8Z"/><rect x="1200" y="275" width="40" height="5"/><rect x="1280" y="315" width="40" height="5"/><rect x="1320" y="315" width="40" height="5"/><rect x="1360" y="315" width="40" height="5"/><rect x="1400" y="315" width="40" height="5"/><rect x="1440" y="315" width="40" height="5"/><rect x="1515" y="280" width="5" height="40"/><rect x="1480" y="315" width="40" height="5"/><rect x="275" y="360" width="5" height="40"/><rect x="240" y="395" width="40" height="5"/><rect x="1515" y="360" width="5" height="40"/><rect x="1235" y="480" width="5" height="40"/><rect x="1200" y="515" width="40" height="5"/><rect x="1560" y="515" width="40" height="5"/><path d="M1595 480H1600V485H1598.2Q1595 485 1595 481.8Z"/><rect x="1635" y="480" width="5" height="40"/><path d="M1600 515H1601.8Q1605 515 1605 518.2V520H1600Z"/><rect x="200" y="555" width="40" height="5"/><rect x="275" y="520" width="5" height="40"/><path d="M240 555H241.8Q245 555 245 558.2V560H240Z"/><rect x="1600" y="555" width="40" height="5"/><path d="M1635 520H1640V525H1638.2Q1635 525 1635 521.8Z"/><rect x="1675" y="520" width="5" height="40"/><path d="M1640 555H1641.8Q1645 555 1645 558.2V560H1640Z"/><rect x="240" y="595" width="40" height="5"/><path d="M275 560H280V565H278.2Q275 565 275 561.8Z"/><rect x="315" y="560" width="5" height="40"/><path d="M280 595H281.8Q285 595 285 598.2V600H280Z"/><rect x="1640" y="595" width="40" height="5"/><path d="M1675 560H1680V565H1678.2Q1675 565 1675 561.8Z"/><rect x="1715" y="560" width="5" height="40"/><path d="M1680 595H1681.8Q1685 595 1685 598.2V600H1680Z"/><rect x="280" y="635" width="40" height="5"/><path d="M315 600H320V605H318.2Q315 605 315 601.8Z"/><rect x="355" y="600" width="5" height="40"/><path d="M320 635H321.8Q325 635 325 638.2V640H320Z"/><rect x="1680" y="635" width="40" height="5"/><path d="M1715 600H1720V605H1718.2Q1715 605 1715 601.8Z"/><rect x="1755" y="600" width="5" height="40"/><rect x="1720" y="635" width="40" height="5"/><rect x="320" y="675" width="40" height="5"/><path d="M355 640H360V645H358.2Q355 645 355 641.8Z"/><rect x="395" y="640" width="5" height="40"/><path d="M360 675H361.8Q365 675 365 678.2V680H360Z"/><rect x="755" y="640" width="5" height="40"/><rect x="720" y="675" width="40" height="5"/><rect x="475" y="760" width="5" height="40"/><rect x="440" y="795" width="40" height="5"/><rect x="1715" y="760" width="5" height="40"/><rect x="1680" y="795" width="40" height="5"/><rect x="440" y="875" width="40" height="5"/><rect x="480" y="875" width="40" height="5"/><rect x="520" y="875" width="40" height="5"/><rect x="560" y="875" width="40" height="5"/><rect x="600" y="875" width="40" height="5"/><rect x="640" y="875" width="40" height="5"/><rect x="720" y="915" width="40" height="5"/><rect x="795" y="880" width="5" height="40"/><path d="M760 915H761.8Q765 915 765 918.2V920H760Z"/><rect x="995" y="880" width="5" height="40"/><rect x="760" y="955" width="40" height="5"/><path d="M795 920H800V925H798.2Q795 925 795 921.8Z"/><rect x="835" y="920" width="5" height="40"/><path d="M800 955H801.8Q805 955 805 958.2V960H800Z"/><path d="M1718.2 955H1720V960H1715V958.2Q1715 955 1718.2 955Z"/><rect x="1755" y="920" width="5" height="40"/><rect x="1720" y="955" width="40" height="5"/><rect x="800" y="995" width="40" height="5"/><path d="M835 960H840V965H838.2Q835 965 835 961.8Z"/><rect x="875" y="960" width="5" height="40"/><path d="M840 995H841.8Q845 995 845 998.2V1000H840Z"/><path d="M1678.2 995H1680V1000H1675V998.2Q1675 995 1678.2 995Z"/><rect x="1715" y="960" width="5" height="40"/><rect x="1680" y="995" width="40" height="5"/><rect x="840" y="1035" width="40" height="5"/><path d="M875 1000H880V1005H878.2Q875 1005 875 1001.8Z"/><rect x="880" y="1035" width="40" height="5"/><rect x="920" y="1035" width="40" height="5"/><rect x="960" y="1035" width="40" height="5"/><rect x="1000" y="1035" width="40" height="5"/><rect x="1040" y="1035" width="40" height="5"/><rect x="1080" y="1035" width="40" height="5"/><path d="M1638.2 1035H1640V1040H1635V1038.2Q1635 1035 1638.2 1035Z"/><rect x="1675" y="1000" width="5" height="40"/><rect x="1640" y="1035" width="40" height="5"/><rect x="1160" y="1075" width="40" height="5"/><rect x="1200" y="1075" width="40" height="5"/><rect x="1240" y="1075" width="40" height="5"/><rect x="1280" y="1075" width="40" height="5"/><rect x="1320" y="1075" width="40" height="5"/><rect x="1360" y="1075" width="40" height="5"/><rect x="1400" y="1075" width="40" height="5"/><rect x="1440" y="1075" width="40" height="5"/><rect x="1480" y="1075" width="40" height="5"/><rect x="1520" y="1075" width="40" height="5"/><rect x="1560" y="1075" width="40" height="5"/><rect x="1635" y="1040" width="5" height="40"/><rect x="1600" y="1075" width="40" height="5"/></g>
<g fill="#18171c"><rect x="359" y="119" width="1" height="1"/><rect x="360" y="119" width="40" height="1"/><rect x="400" y="119" width="40" height="1"/><rect x="440" y="119" width="40" height="1"/><rect x="480" y="119" width="40" height="1"/><rect x="520" y="119" width="40" height="1"/><rect x="560" y="119" width="40" height="1"/><rect x="600" y="119" width="40" height="1"/><rect x="640" y="119" width="40" height="1"/><rect x="680" y="119" width="40" height="1"/><rect x="720" y="119" width="40" height="1"/><rect x="760" y="119" width="40" height="1"/><rect x="319" y="159" width="1" height="1"/><rect x="359" y="120" width="1" height="40"/><rect x="320" y="159" width="40" height="1"/><rect x="840" y="159" width="40" height="1"/><rect x="880" y="159" width="40" height="1"/><rect x="920" y="159" width="40" height="1"/><rect x="960" y="159" width="40" height="1"/><rect x="1000" y="159" width="40" height="1"/><rect x="1040" y="159" width="40" height="1"/><rect x="1119" y="120" width="1" height="40"/><rect x="1080" y="159" width="5" height="1"/><rect x="279" y="199" width="1" height="1"/><rect x="319" y="160" width="1" height="40"/><rect x="280" y="199" width="40" height="1"/><rect x="1080" y="199" width="40" height="1"/><rect x="1119" y="160" width="1" height="5"/><rect x="1159" y="160" width="1" height="40"/><rect x="1120" y="199" width="5" height="1"/><rect x="200" y="239" width="40" height="1"/><rect x="279" y="200" width="1" height="40"/><rect x="240" y="239" width="40" height="1"/><rect x="1120" y="239" width="40" height="1"/><rect x="1159" y="200" width="1" height="5"/><rect x="1199" y="200" width="1" height="40"/><rect x="1160" y="239" width="5" height="1"/><rect x="960" y="279" width="40" height="1"/><rect x="1160" y="279" width="40" height="1"/><rect x="1199" y="240" width="1" height="5"/><rect x="1200" y="279" width="40" height="1"/><rect x="1280" y="319" width="40" height="1"/><rect x="1320" y="319" width="40" height="1"/><rect x="1360" y="319" width="40" height="1"/><rect x="1400" y="319" width="40" height="1"/><rect x="1440" y="319" width="40" height="1"/><rect x="1519" y="280" width="1" height="40"/><rect x="1480" y="319" width="40" height="1"/><rect x="279" y="360" width="1" height="40"/><rect x="240" y="399" width="40" height="1"/><rect x="1519" y="360" width="1" height="40"/><rect x="1239" y="480" width="1" height="40"/><rect x="1200" y="519" width="40" height="1"/><rect x="1560" y="519" width="40" height="1"/><rect x="1599" y="480" width="1" height="5"/><rect x="1639" y="480" width="1" height="40"/><rect x="1600" y="519" width="5" height="1"/><rect x="200" y="559" width="40" height="1"/><rect x="279" y="520" width="1" height="40"/><rect x="240" y="559" width="5" height="1"/><rect x="1600" y="559" width="40" height="1"/><rect x="1639" y="520" width="1" height="5"/><rect x="1679" y="520" width="1" height="40"/><rect x="1640" y="559" width="5" height="1"/><rect x="240" y="599" width="40" height="1"/><rect x="279" y="560" width="1" height="5"/><rect x="319" y="560" width="1" height="40"/><rect x="280" y="599" width="5" height="1"/><rect x="1640" y="599" width="40" height="1"/><rect x="1679" y="560" width="1" height="5"/><rect x="1719" y="560" width="1" height="40"/><rect x="1680" y="599" width="5" height="1"/><rect x="280" y="639" width="40" height="1"/><rect x="319" y="600" width="1" height="5"/><rect x="359" y="600" width="1" height="40"/><rect x="320" y="639" width="5" height="1"/><rect x="1680" y="639" width="40" height="1"/><rect x="1719" y="600" width="1" height="5"/><rect x="1759" y="600" width="1" height="40"/><rect x="1720" y="639" width="40" height="1"/><rect x="320" y="679" width="40" height="1"/><rect x="359" y="640" width="1" height="5"/><rect x="399" y="640" width="1" height="40"/><rect x="360" y="679" width="5" height="1"/><rect x="759" y="640" width="1" height="40"/><rect x="720" y="679" width="40" height="1"/><rect x="479" y="760" width="1" height="40"/><rect x="440" y="799" width="40" height="1"/><rect x="1719" y="760" width="1" height="40"/><rect x="1680" y="799" width="40" height="1"/><rect x="440" y="879" width="40" height="1"/><rect x="480" y="879" width="40" height="1"/><rect x="520" y="879" width="40" height="1"/><rect x="560" y="879" width="40" height="1"/><rect x="600" y="879" width="40" height="1"/><rect x="640" y="879" width="40" height="1"/><rect x="720" y="919" width="40" height="1"/><rect x="799" y="880" width="1" height="40"/><rect x="760" y="919" width="5" height="1"/><rect x="999" y="880" width="1" height="40"/><rect x="760" y="959" width="40" height="1"/><rect x="799" y="920" width="1" height="5"/><rect x="839" y="920" width="1" height="40"/><rect x="800" y="959" width="5" height="1"/><rect x="1719" y="959" width="1" height="1"/><rect x="1759" y="920" width="1" height="40"/><rect x="1720" y="959" width="40" height="1"/><rect x="800" y="999" width="40" height="1"/><rect x="839" y="960" width="1" height="5"/><rect x="879" y="960" width="1" height="40"/><rect x="840" y="999" width="5" height="1"/><rect x="1679" y="999" width="1" height="1"/><rect x="1719" y="960" width="1" height="40"/><rect x="1680" y="999" width="40" height="1"/><rect x="840" y="1039" width="40" height="1"/><rect x="879" y="1000" width="1" height="5"/><rect x="880" y="1039" width="40" height="1"/><rect x="920" y="1039" width="40" height="1"/><rect x="960" y="1039" width="40" height="1"/><rect x="1000" y="1039" width="40" height="1"/><rect x="1040" y="1039" width="40" height="1"/><rect x="1080" y="1039" width="40" height="1"/><rect x="1639" y="1039" width="1" height="1"/><rect x="1679" y="1000" width="1" height="40"/><rect x="1640" y="1039" width="40" height="1"/><rect x="1160" y="1079" width="40" height="1"/><rect x="1200" y="1079" width="40" height="1"/><rect x="1240" y="1079" width="40" height="1"/><rect x="1280" y="1079" width="40" height="1"/><rect x="1320" y="1079" width="40" height="1"/><rect x="1360" y="1079" width="40" height="1"/><rect x="1400" y="1079" width="40" height="1"/><rect x="1440" y="1079" width="40" height="1"/><rect x="1480" y="1079" width="40" height="1"/><rect x="1520" y="1079" width="40" height="1"/><rect x="1560" y="1079" width="40" height="1"/><rect x="1639" y="1040" width="1" height="40"/><rect x="1600" y="1079" width="40" height="1"/></g>
<g fill="#232227"><rect x="334.6" y="114.8" width="5.4" height="24.8" rx="1.6"/><rect x="294.6" y="154.8" width="5.4" height="24.8" rx="1.6"/><rect x="254.6" y="194.8" width="5.4" height="24.8" rx="1.6"/><rect x="1694.6" y="954.8" width="5.4" height="24.8" rx="1.6"/><rect x="1654.6" y="994.8" width="5.4" height="24.8" rx="1.6"/><rect x="1614.6" y="1034.8" width="5.4" height="24.8" rx="1.6"/></g>
<use href="#bomb" x="320" y="160"/>
<use href="#spike" x="200" y="240"/>
<use href="#spike" x="240" y="240"/>
<use href="#spike" x="200" y="280"/>
<use href="#spike" x="240" y="280"/>
<use href="#spike" x="200" y="320"/>
<use href="#spike" x="240" y="320"/>
<use href="#portal" x="1440" y="320"/>
<use href="#spike" x="1480" y="320"/>
<use href="#spike" x="200" y="360"/>
<use href="#portaloff" x="280" y="360"/>
<use href="#rflag" x="320" y="360"/>
<use href="#pup" x="480" y="360"/>
<use href="#spike" x="560" y="360"/>
<use href="#portal" x="600" y="360"/>
<use href="#boost" x="800" y="360"/>
<use href="#spike" x="200" y="400"/>
<use href="#spike" x="240" y="400"/>
<use href="#spike" x="200" y="440"/>
<use href="#spike" x="240" y="440"/>
<use href="#spike" x="200" y="480"/>
<use href="#spike" x="240" y="480"/>
<use href="#spike" x="1000" y="480"/>
<use href="#boost" x="480" y="560"/>
<use href="#pup" x="960" y="560"/>
<use href="#boost" x="1440" y="560"/>
<use href="#spike" x="920" y="640"/>
<use href="#spike" x="1680" y="640"/>
<use href="#spike" x="1720" y="640"/>
<use href="#spike" x="1680" y="680"/>
<use href="#spike" x="1720" y="680"/>
<use href="#spike" x="1680" y="720"/>
<use href="#spike" x="1720" y="720"/>
<use href="#boost" x="1120" y="760"/>
<use href="#portal" x="1320" y="760"/>
<use href="#spike" x="1360" y="760"/>
<use href="#pup" x="1440" y="760"/>
<use href="#bflag" x="1600" y="760"/>
<use href="#portaloff" x="1640" y="760"/>
<use href="#spike" x="1720" y="760"/>
<use href="#spike" x="440" y="800"/>
<use href="#portal" x="480" y="800"/>
<use href="#spike" x="1680" y="800"/>
<use href="#spike" x="1720" y="800"/>
<use href="#spike" x="1680" y="840"/>
<use href="#spike" x="1720" y="840"/>
<use href="#spike" x="1680" y="880"/>
<use href="#spike" x="1720" y="880"/>
<use href="#bomb" x="1600" y="960"/>
</svg>
</body></html>
